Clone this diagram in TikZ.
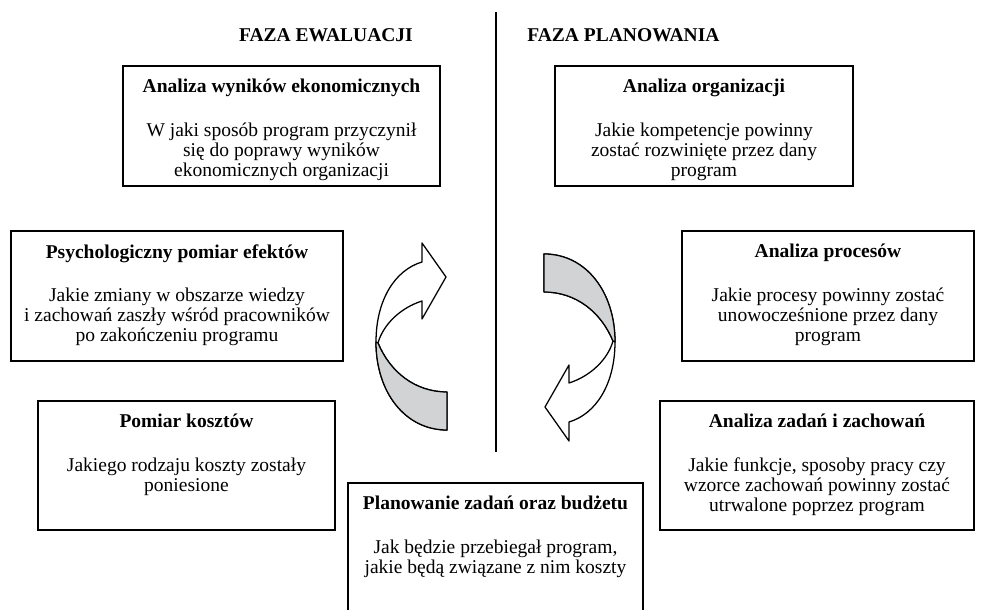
\documentclass[tikz,border=0pt]{standalone}
\usepackage{fontspec}
\setmainfont{Liberation Serif}
\usetikzlibrary{positioning, fit}
\definecolor{bandgray}{RGB}{210,211,213}
\tikzset{
	frame/.style={draw, line width=0.75pt, inner sep=0pt},
	boxtext/.style={align=center, font=\fontsize{10}{10.3}\selectfont, inner sep=0pt},
	phase/.style={font=\fontsize{10}{12}\selectfont\bfseries, inner sep=0pt},
	band/.style={draw, line width=0.65pt, fill=white, line join=round},
	bandback/.style={band, fill=bandgray}
}

\begin{document}
\begin{tikzpicture}[x=0.018cm, y=-0.018cm]
	\useasboundingbox (0,0) rectangle (981,610);
	
	% Phase headings and the dividing line
	\node[phase] (evalhead) at (326,35) {FAZA EWALUACJI};
	\node[phase, anchor=west] (planhead) at (527,35) {FAZA PLANOWANIA};
	\coordinate (divtop) at (496,12);
	\coordinate (divbot) at (496,452);
	\draw[line width=0.65pt] (divtop) -- (divbot);
	
	% Evaluation side
	\node[frame, fit={(123,66) (440,186)}] (ekon) {};
	\node[boxtext, below=7pt of ekon.north] (ekontxt) {\textbf{Analiza wyników ekonomicznych}\\[12pt]
		W jaki sposób program przyczynił\\ się do poprawy wyników\\ ekonomicznych organizacji};
	
	\node[frame, fit={(11,231) (343,361)}] (psych) {};
	\node[boxtext, below=7pt of psych.north] (psychtxt) {\textbf{Psychologiczny pomiar efektów}\\[12pt]
		Jakie zmiany w obszarze wiedzy\\ i zachowań zaszły wśród pracowników\\ po zakończeniu programu};
	
	\node[frame, fit={(38,401) (335,530)}] (koszt) {};
	\node[boxtext, below=7pt of koszt.north] (koszttxt) {\textbf{Pomiar kosztów}\\[12pt]
		Jakiego rodzaju koszty zostały\\ poniesione};
	
	% Planning side
	\node[frame, fit={(555,66) (853,186)}] (org) {};
	\node[boxtext, below=7pt of org.north] (orgtxt) {\textbf{Analiza organizacji}\\[12pt]
		Jakie kompetencje powinny\\ zostać rozwinięte przez dany\\ program};
	
	\node[frame, fit={(682,231) (974,361)}] (proc) {};
	\node[boxtext, below=7pt of proc.north] (proctxt) {\textbf{Analiza procesów}\\[12pt]
		Jakie procesy powinny zostać\\ unowocześnione przez dany\\ program};
	
	\node[frame, fit={(660,401) (974,530)}] (zad) {};
	\node[boxtext, below=7pt of zad.north] (zadtxt) {\textbf{Analiza zadań i zachowań}\\[12pt]
		Jakie funkcje, sposoby pracy czy\\ wzorce zachowań powinny zostać\\ utrwalone poprzez program};
	
	% Bottom box runs off the page
	\node[frame, fit={(348,483) (643,630)}] (plan) {};
	\node[boxtext, below=7pt of plan.north] (plantxt) {\textbf{Planowanie zadań oraz budżetu}\\[12pt]
		Jak będzie przebiegał program,\\ jakie będą związane z nim koszty};
	
	% Curved band arrows (right one is the left one turned round)
	\foreach \ang in {0,180} {
		\begin{scope}[rotate around={\ang:(495.5,342)}]
			\draw[band] (447,430) .. controls (405,430) and (376,392) .. (376,342)
				.. controls (376,300) and (395,270) .. (422,262)
				-- (422,243) -- (446,277) -- (422,319) -- (422,301)
				.. controls (400,308) and (383,325) .. (378,343)
				.. controls (390,372) and (415,392) .. (447,392) -- cycle;
			\draw[bandback] (378,343) .. controls (390,372) and (415,392) .. (447,392)
				-- (447,430) .. controls (405,430) and (376,392) .. (376,342) -- cycle;
		\end{scope}
	}
	
\end{tikzpicture}
\end{document}
